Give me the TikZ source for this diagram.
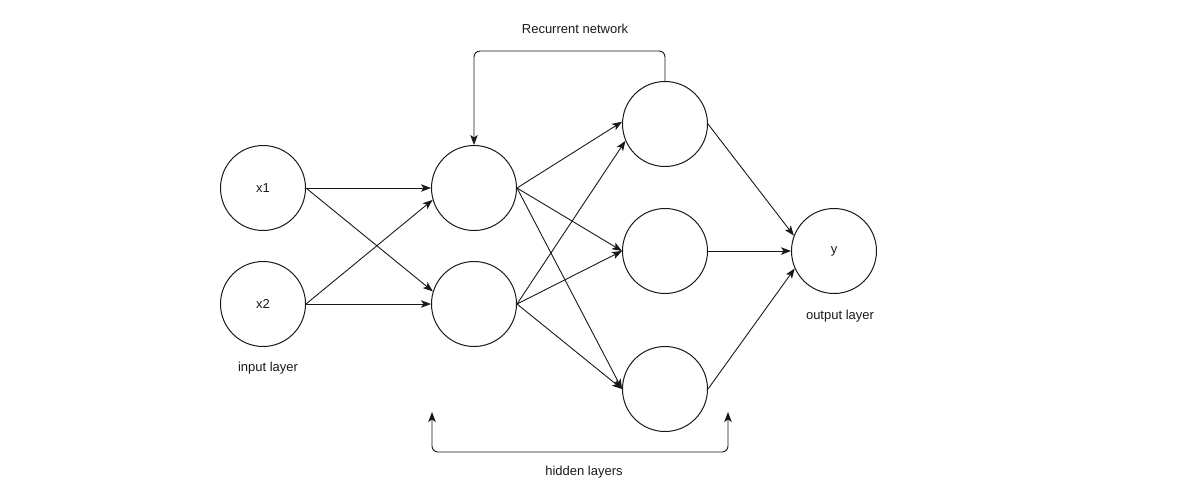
\documentclass[tikz,border=0pt]{standalone}
\usepackage{fontspec}
\setmainfont{Liberation Sans}
\usetikzlibrary{arrows.meta}
\def\tip{Stealth[length=10pt,width=7.5pt,inset=2.5pt]}

\begin{document}
\begin{tikzpicture}[x=1pt,y=-1pt,
    neuron/.style={draw=black!90,circle,minimum size=85pt,inner sep=0pt,line width=1pt},
    link/.style={-{\tip},draw=black!90,line width=0.9pt},
    every node/.style={font=\fontsize{13}{15}\selectfont,text=black!90}]
    \useasboundingbox (0,0) rectangle (1187,493);
    % layers
    \node[neuron] (x1) at (263,188) {x1};
    \node[neuron] (x2) at (263,304) {x2};
    \node[neuron] (h1a) at (474,188) {};
    \node[neuron] (h1b) at (474,304) {};
    \node[neuron] (h2a) at (665,124) {};
    \node[neuron] (h2b) at (665,251) {};
    \node[neuron] (h2c) at (665,389) {};
    \node[neuron] (y) at (834,251) {y};
    % connections
    \draw[link] (x1.east) -- (h1a.west);
    \draw[link] (x1.east) -- (h1b.163);
    \draw[link] (x2.east) -- (h1a.196);
    \draw[link] (x2.east) -- (h1b.west);
    \draw[link] (h1a.east) -- (h2a.177);
    \draw[link] (h1a.east) -- (h2b.west);
    \draw[link] (h1a.east) -- (h2c.west);
    \draw[link] (h1b.east) -- (h2a.203);
    \draw[link] (h1b.east) -- (h2b.west);
    \draw[link] (h1b.east) -- (h2c.west);
    \draw[link] (h2a.east) -- (y.159);
    \draw[link] (h2b.east) -- (y.west);
    \draw[link] (h2c.east) -- (y.204);
    % recurrent loop
    \coordinate (rec) at (570,51);
    \draw[link,rounded corners=6pt] (h2a.north) |- (rec) -| (h1a.north);
    \node (rectext) at (575,29) {Recurrent network};
    % hidden layers bracket
    \coordinate (hl) at (432,412);
    \coordinate (hr) at (728,412);
    \coordinate (hb) at (580,452);
    \draw[link,{\tip}-{\tip},rounded corners=6pt] (hl) |- (hb) -| (hr);
    \node (hidtext) at (584,472) {hidden layers};
    \node (intext) at (268,368) {input layer};
    \node (outtext) at (840,316) {output layer};
\end{tikzpicture}
\end{document}
